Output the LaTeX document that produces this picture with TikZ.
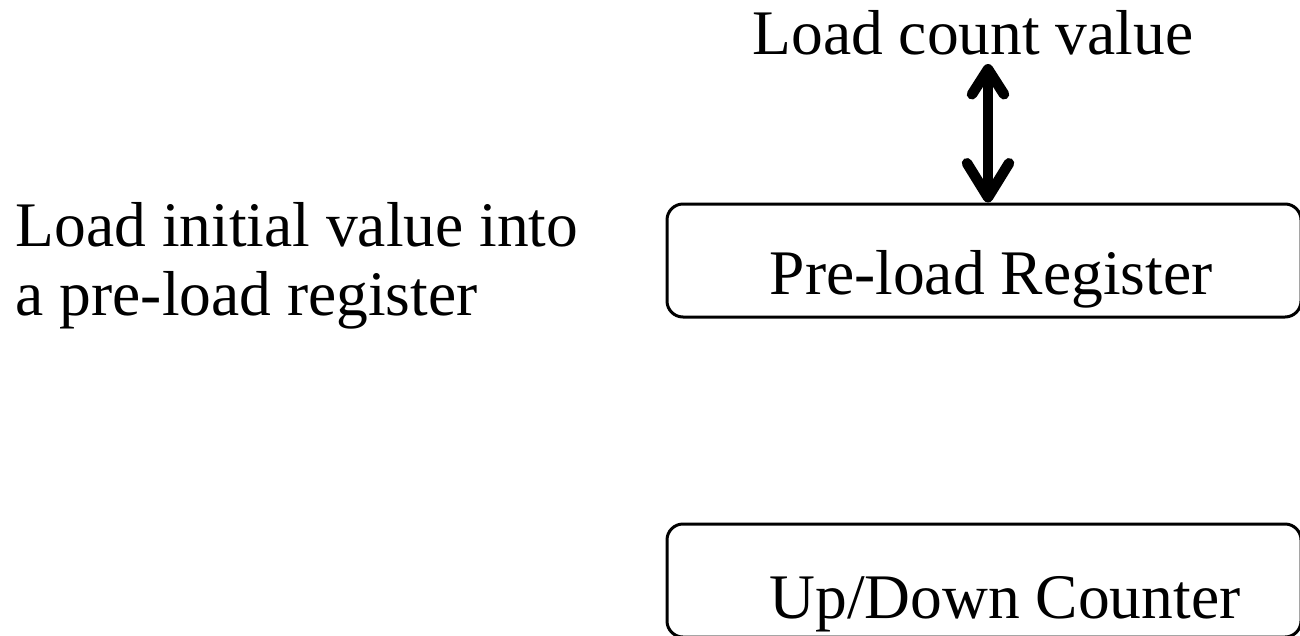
\documentclass[tikz,border=0pt]{standalone}
\usepackage{fontspec}
\setmainfont{Liberation Serif}
\usetikzlibrary{arrows.meta}
\tikzset{
  box/.style={draw=black, line width=3pt, rounded corners=16pt, minimum width=634pt, minimum height=113pt, inner sep=0pt},
  lbl/.style={font=\fontsize{63.5}{69}\selectfont, inner sep=0pt, text=black},
  bigarrow/.style={line width=10.5pt,
    {Straight Barb[length=25pt,width=32pt,line cap=round,line join=round]}-{Straight Barb[length=34pt,width=42pt,line cap=round,line join=round]}}
}
\begin{document}
\begin{tikzpicture}[x=1pt,y=-1pt]
\useasboundingbox (0,0) rectangle (1300,635);
\clip (0,0) rectangle (1300,635);
\node[box] (preload) at (984,260.5) {};
\node[box] (counter) at (984,580.5) {};
\node[lbl, anchor=base] (title) at (973,54.3) {Load count value};
\node[lbl, anchor=base] (preloadtxt) at (991,294.3) {Pre-load Register};
\node[lbl, anchor=base] (countertxt) at (1005,618) {Up/Down Counter};
\node[lbl, anchor=base west, align=left] (desc) at (15.5,315.7) {Load initial value into\\a pre-load register};
\coordinate (atop) at (988,64);
\draw[bigarrow] (atop) -- (atop |- preload.north);
\end{tikzpicture}
\end{document}
